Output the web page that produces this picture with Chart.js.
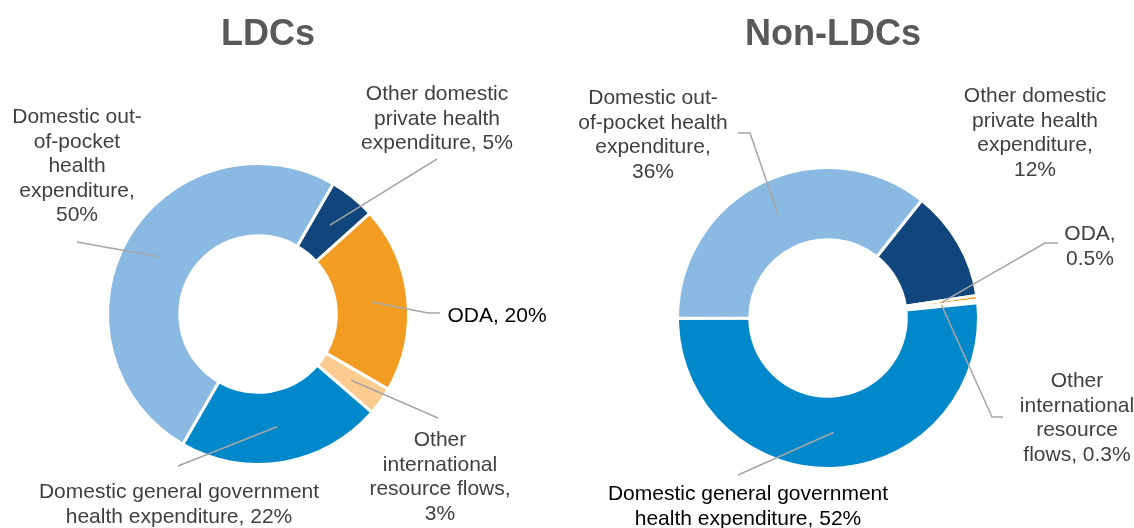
<!DOCTYPE html>
<html>
<head>
<meta charset="utf-8">
<script src="https://cdn.jsdelivr.net/npm/chart.js@4/dist/chart.umd.min.js"></script>
<style>
  html, body { margin: 0; padding: 0; background: #ffffff; }
  #wrap { position: relative; width: 1134px; height: 528px; }
  canvas { position: absolute; left: 0; top: 0; }
</style>
</head>
<body>
<div id="wrap">
  <canvas id="c1" width="1134" height="528"></canvas>
  <canvas id="c2" width="1134" height="528"></canvas>
</div>
<script>
// ---------- DATA ----------
const categories = [
  'Other domestic private health expenditure',
  'ODA',
  'Other international resource flows',
  'Domestic general government health expenditure',
  'Domestic out-of-pocket health expenditure'
];
const ldcValues    = [5, 20, 3, 22, 50];
const nonLdcValues = [12, 0.5, 0.3, 52, 36];
const chartTitles  = ['LDCs', 'Non-LDCs'];

const ldcLabels = [
  ['Other domestic', 'private health', 'expenditure, 5%'],
  ['ODA, 20%'],
  ['Other', 'international', 'resource flows,', '3%'],
  ['Domestic general government', 'health expenditure, 22%'],
  ['Domestic out-', 'of-pocket', 'health', 'expenditure,', '50%']
];
const nonLdcLabels = [
  ['Other domestic', 'private health', 'expenditure,', '12%'],
  ['ODA,', '0.5%'],
  ['Other', 'international', 'resource', 'flows, 0.3%'],
  ['Domestic general government', 'health expenditure, 52%'],
  ['Domestic out-', 'of-pocket health', 'expenditure,', '36%']
];

// ---------- STYLE / LAYOUT ----------
const sliceColors = ['#10467B', '#F39C22', '#FBCB8F', '#0088CA', '#8AB9E2'];
const GREY_TEXT = '#404040';
const LINE_COLOR = '#A6A6A6';
const FONT = '21px "Liberation Sans", Arial, sans-serif';
const LINE_H = 24.5;

// label placement: x = centre of text, y = first baseline, path = leader points after the slice centroid
const ldcLayout = [
  { x: 437, y: 100, color: GREY_TEXT, path: [[437, 159]] },
  { x: 497, y: 322, color: '#000000', path: [[428, 313], [440, 313]] },
  { x: 440, y: 446, color: GREY_TEXT, path: [[438, 418]] },
  { x: 179, y: 498, color: GREY_TEXT, path: [[178, 466]] },
  { x: 77,  y: 123, color: GREY_TEXT, path: [[77, 242]] }
];
const nonLdcLayout = [
  { x: 1035, y: 102, color: GREY_TEXT, path: null },
  { x: 1090, y: 240, color: GREY_TEXT, path: [[1045, 243], [1058, 243]] },
  { x: 1077, y: 387, color: GREY_TEXT, path: [[992, 417], [1003, 417]] },
  { x: 748,  y: 500, color: '#000000', path: [[738, 475]] },
  { x: 653,  y: 104, color: GREY_TEXT, path: [[750, 133], [738, 133]] }
];

const labelPlugin = {
  id: 'sliceLabels',
  afterDraw(chart, args, opts) {
    const ctx = chart.ctx;
    const meta = chart.getDatasetMeta(0);
    ctx.save();
    // title
    ctx.font = 'bold 36px "Liberation Sans", Arial, sans-serif';
    ctx.fillStyle = '#595959';
    ctx.textAlign = 'center';
    ctx.textBaseline = 'alphabetic';
    ctx.fillText(opts.title, opts.titleX, 45);
    // leader lines
    ctx.strokeStyle = LINE_COLOR;
    ctx.lineWidth = 1.5;
    opts.layout.forEach((L, i) => {
      if (!L.path) return;
      const p = meta.data[i].tooltipPosition();
      ctx.beginPath();
      ctx.moveTo(p.x, p.y);
      L.path.forEach(pt => ctx.lineTo(pt[0], pt[1]));
      ctx.stroke();
    });
    // texts
    ctx.font = FONT;
    ctx.textAlign = 'center';
    ctx.textBaseline = 'alphabetic';
    opts.layout.forEach((L, i) => {
      ctx.fillStyle = L.color;
      opts.labels[i].forEach((line, k) => {
        ctx.fillText(line, L.x, L.y + k * LINE_H);
      });
    });
    ctx.restore();
  }
};

function makeChart(id, values, rotation, padding, title, titleX, labels, layout) {
  return new Chart(document.getElementById(id), {
    type: 'doughnut',
    data: {
      labels: categories,
      datasets: [{
        data: values,
        backgroundColor: sliceColors,
        borderColor: '#ffffff',
        borderWidth: 3,
        hoverBorderWidth: 3,
        hoverOffset: 0
      }]
    },
    options: {
      responsive: false,
      animation: false,
      events: [],
      rotation: rotation,
      cutout: '52%',
      layout: { padding: padding },
      plugins: {
        legend: { display: false },
        tooltip: { enabled: false },
        title: { display: false },
        sliceLabels: { title: title, titleX: titleX, labels: labels, layout: layout }
      }
    },
    plugins: [labelPlugin]
  });
}

makeChart('c1', ldcValues, 30, { left: 106, right: 724, top: 162, bottom: 62 },
  chartTitles[0], 268, ldcLabels, ldcLayout);
makeChart('c2', nonLdcValues, 38.5, { left: 676, right: 154, top: 166, bottom: 58 },
  chartTitles[1], 833, nonLdcLabels, nonLdcLayout);
</script>
</body>
</html>
